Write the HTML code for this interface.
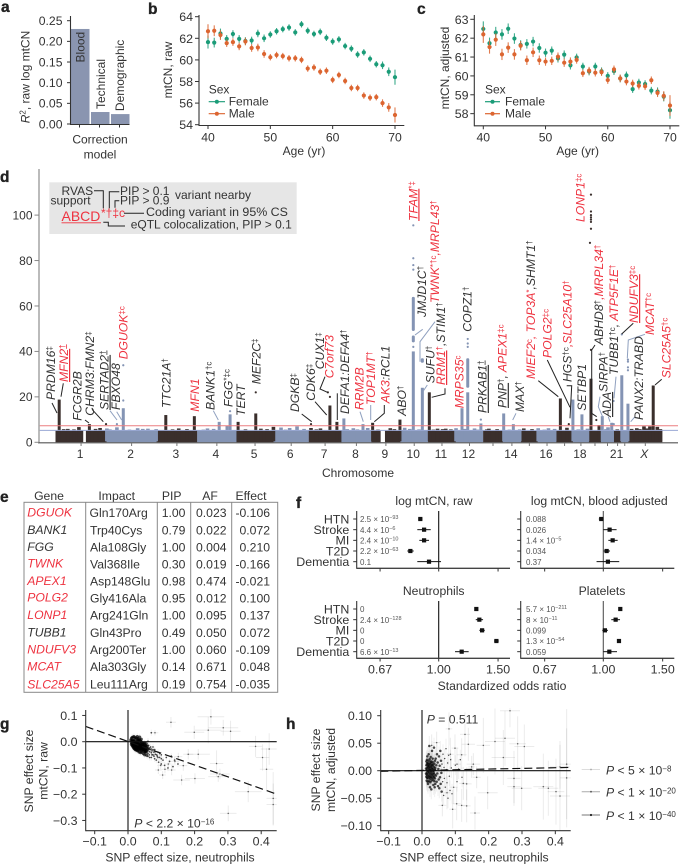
<!DOCTYPE html>
<html lang="en">
<head>
<meta charset="utf-8">
<title>mtCN figure</title>
<style>
html,body{margin:0;padding:0;background:#fff;}
svg{display:block;}
text{font-family:"Liberation Sans",sans-serif;fill:#333;font-size:12px;}
.pl{font-weight:700;font-size:15.5px;fill:#222;stroke:#222;stroke-width:.35;}
.g{font-style:italic;font-size:12.2px;fill:#333;}
.r{fill:#ee3340;}
.g tspan.r{fill:#ee3340;}
.s{font-size:8px;font-style:normal;baseline-shift:3.5px;}
.u{text-decoration:underline;}
.bl{fill:none;stroke:#222;stroke-width:1;}
.blu{fill:none;stroke:#8fa0bf;stroke-width:1;}
.tc{font-size:12.2px;}
.gene{font-style:italic;}
</style>
</head>
<body>
<svg id="fig" xmlns="http://www.w3.org/2000/svg" width="685" height="865" viewBox="0 0 685 865">
<rect x="0" y="0" width="685" height="865" fill="#fff"/>
<defs>
<clipPath id="clipG"><rect x="85.7" y="708" width="191" height="122.7"/></clipPath>
<clipPath id="clipH"><rect x="380.7" y="708" width="190" height="122.7"/></clipPath>
</defs>

<text class="pl" x="1" y="12">a</text>
<text class="pl" x="148" y="14">b</text>
<text class="pl" x="417" y="14">c</text>
<text class="pl" x="0" y="182">d</text>
<text class="pl" x="0" y="502">e</text>
<text class="pl" x="296" y="508">f</text>
<text class="pl" x="0" y="729">g</text>
<text class="pl" x="286" y="729">h</text>

<g id="panelA">
<text transform="translate(29.5,77) rotate(-90)" text-anchor="middle"><tspan font-style="italic">R</tspan><tspan style="font-size:8px;baseline-shift:4px">2</tspan>, raw log mtCN</text>
<text x="100" y="143.5" text-anchor="middle" font-size="12.5">Correction</text>
<text x="100" y="158.5" text-anchor="middle">model</text>
</g>
<g id="panelB">
<text transform="translate(172,70) rotate(-90)" text-anchor="middle">mtCN, raw</text>
<text x="304" y="155" text-anchor="middle">Age (yr)</text>
<text x="208.7" y="93.5">Sex</text>
<text x="228.7" y="105.5">Female</text>
<text x="228.7" y="117.5">Male</text>
</g>
<g id="panelC">
<text transform="translate(449,68) rotate(-90)" text-anchor="middle">mtCN, adjusted</text>
<text x="577.7" y="155" text-anchor="middle">Age  (yr)</text>
<text x="485" y="93.5">Sex</text>
<text x="505" y="105.5">Female</text>
<text x="505" y="117.5">Male</text>
</g>

<g id="panelD"></g>
<g id="panelDLabels">
<rect x="49.3" y="182.3" width="247.4" height="51.7" fill="#e6e6e6"/>
<text x="61.5" y="195">RVAS</text>
<text x="50.5" y="204.3">support</text>
<text x="61.5" y="221" font-size="14" class="r" style="font-size:14px">ABCD</text>
<line x1="61.5" y1="222.8" x2="101" y2="222.8" stroke="#ee3340" stroke-width=".9"/>
<text x="101" y="217" class="r" style="font-size:12px">*†‡c</text>
<text x="120" y="195">PIP &gt; 0.1</text>
<text x="120" y="204.3">PIP &gt; 0.9</text>
<text x="175" y="199">variant nearby</text>
<text x="146" y="216" style="font-size:12.4px">Coding variant in 95% CS</text>
<text x="130.7" y="228.3" style="font-size:12px">eQTL colocalization, PIP &gt; 0.1</text>
<polyline class="bl" points="94,190.7 103.3,190.7 103.3,208.3"/>
<polyline class="bl" points="119.3,191.7 109.3,191.7 109.3,208.3"/>
<polyline class="bl" points="119.3,200.7 115,200.7 115,207.7"/>
<polyline class="bl" points="124,213.3 144,213.3"/>
<polyline class="bl" points="103.3,222.3 108.3,222.3 108.3,226 125,226"/>

<polyline class="bl" points="52,403 57,413"/>
<polyline class="bl" points="63.3,383.3 61,396.7"/>
<polyline class="bl" points="85,420 89,423"/>
<polyline class="bl" points="92,409.3 103.3,421.7"/>
<polyline class="bl" points="301.7,414 311.7,421.7"/>
<polyline class="bl" points="315,401.7 326.7,415"/>
<polyline class="bl" points="325,376.7 320,389 328.3,392.7"/>
<polyline class="bl" points="337.3,393.3 337.3,420"/>
<polyline class="bl" points="384.3,405 384.3,413.3 374.3,421.7"/>
<polyline class="bl" points="445,388.3 445,394 431.7,397.3"/>
<polyline class="bl" points="538.3,380.7 558.3,396.7"/>
<polyline class="bl" points="547.3,360 570,407.3"/>
<polyline class="bl" points="566.7,385.7 571.7,385.7 570,418.3"/>
<polyline class="bl" points="595,345 591.7,350 591.7,413.3 596.7,416.7"/>
<polyline class="bl" points="621.7,334 633.3,323.3"/>
<polyline class="bl" points="661.7,379.3 655,385"/>
<polyline class="blu" points="110,410.7 117,420"/>
<polyline class="blu" points="116.7,411.7 121.7,420"/>
<polyline class="blu" points="213.3,410.7 218.3,420"/>
<polyline class="blu" points="360,411.7 363.3,421.7"/>
<polyline class="blu" points="370.7,405 370.7,420"/>
<polyline class="blu" points="427.3,385 423.3,391"/>
<polyline class="blu" points="415,335 422.7,329.3"/>
<polyline class="blu" points="420,361.7 420,341.7 435,321.7"/>
<polyline class="blu" points="516,413.3 512.7,420"/>
<polyline class="blu" points="600,396.7 598.3,406.7 603.3,418.3"/>
<polyline class="blu" points="608.3,416.7 610,421.7"/>
<polyline class="blu" points="616,376.7 614,398.3"/>
<polyline class="blu" points="645,334.3 628.3,340 627.3,358.3"/>
<polyline class="blu" points="635,416.7 630.7,421.7"/>

<text class="g" transform="translate(55,400) rotate(-90)">PRDM16<tspan class="s">‡</tspan></text>
<text class="g r u" transform="translate(68,382) rotate(-90)">MFN2<tspan class="s">†</tspan></text>
<text class="g" transform="translate(81.7,420.7) rotate(-90)">FCGR2B</text>
<text class="g" transform="translate(94,415.7) rotate(-90)">CHRM3:FMN2<tspan class="s">‡</tspan></text>
<text class="g u" transform="translate(108.5,410) rotate(-90)">SERTAD2<tspan class="s">†</tspan></text>
<text class="g" transform="translate(120,410) rotate(-90)">FBXO48</text>
<text class="g r" transform="translate(127.3,359.3) rotate(-90)">DGUOK<tspan class="s">‡c</tspan></text>
<text class="g" transform="translate(170.7,408) rotate(-90)">TTC21A<tspan class="s">†</tspan></text>
<text class="g r" transform="translate(199,411.7) rotate(-90)">MFN1</text>
<text class="g" transform="translate(214.3,410) rotate(-90)">BANK1<tspan class="s">†c</tspan></text>
<text class="g" transform="translate(232.3,407) rotate(-90)">FGG<tspan class="s">*‡c</tspan></text>
<text class="g" transform="translate(245,416) rotate(-90)">TERT</text>
<text class="g" transform="translate(260.7,384.3) rotate(-90)">MEF2C<tspan class="s">‡</tspan></text>
<text class="g" transform="translate(299,412) rotate(-90)">DGKB<tspan class="s">‡</tspan></text>
<text class="g" transform="translate(315,400.7) rotate(-90)">CDK6<tspan class="s">‡</tspan></text>
<text class="g" transform="translate(324,369.3) rotate(-90)">CUX1<tspan class="s">‡</tspan></text>
<text class="g r" transform="translate(333.3,378.3) rotate(-90)">C7orf73</text>
<text class="g" transform="translate(349,414) rotate(-90)">DEFA1:DEFA4<tspan class="s">†</tspan></text>
<text class="g r" transform="translate(363.3,410) rotate(-90)">RRM2B</text>
<text class="g r" transform="translate(375,405) rotate(-90)">TOP1MT<tspan class="s">†</tspan></text>
<text class="g" transform="translate(389.3,403.3) rotate(-90)"><tspan class="r">AK3</tspan>:RCL1</text>
<text class="g" transform="translate(406,415.7) rotate(-90)">ABO<tspan class="s">†</tspan></text>
<text class="g" transform="translate(426,317) rotate(-90)">JMJD1C<tspan class="s">†</tspan></text>
<text class="g" transform="translate(434.7,383.3) rotate(-90)">SUFU<tspan class="s">†</tspan></text>
<text class="g" transform="translate(445,385) rotate(-90)"><tspan class="r u">RRM1</tspan><tspan class="s r">†</tspan>,STIM1<tspan class="s">†</tspan></text>
<text class="g r" transform="translate(439,303) rotate(-90)">TWNK<tspan class="s">*†c</tspan>,MRPL43<tspan class="s">†</tspan></text>
<text class="g r" transform="translate(463.3,408.3) rotate(-90)">MRPS35<tspan class="s">c</tspan></text>
<text class="g" transform="translate(471.7,331.7) rotate(-90)">COPZ1<tspan class="s">†</tspan></text>
<text class="g u" transform="translate(486.7,413) rotate(-90)">PRKAB1<tspan class="s">†</tspan></text>
<text class="g" transform="translate(506.7,408) rotate(-90)"><tspan class="u">PNP</tspan><tspan class="s">†</tspan>, <tspan class="r">APEX1</tspan><tspan class="s r">‡c</tspan></text>
<text class="g" transform="translate(524,412) rotate(-90)">MAX<tspan class="s">†</tspan></text>
<text class="g" transform="translate(535,379) rotate(-90)"><tspan class="r">MIEF2</tspan><tspan class="s r">c</tspan><tspan class="r">, TOP3A</tspan><tspan class="s r">*</tspan>,SHMT1<tspan class="s">†</tspan></text>
<text class="g r" transform="translate(551.7,358) rotate(-90)">POLG2<tspan class="s">‡c</tspan></text>
<text class="g" transform="translate(571.7,382) rotate(-90)">HGS<tspan class="s">†c</tspan><tspan class="r">,SLC25A10</tspan><tspan class="s r">†</tspan></text>
<text class="g" transform="translate(586,410.7) rotate(-90)">SETBP1</text>
<text class="g" transform="translate(603,345) rotate(-90)">ABHD8<tspan class="s">†</tspan><tspan class="r">,MRPL34</tspan><tspan class="s r">†</tspan></text>
<text class="g" transform="translate(607.7,392) rotate(-90)">SIRPA<tspan class="s">†</tspan></text>
<text class="g u" transform="translate(611,417) rotate(-90)">ADA</text>
<text class="g" transform="translate(618,375) rotate(-90)">TUBB1<tspan class="s">†c</tspan>, <tspan class="r">ATP5F1E</tspan><tspan class="s r">†</tspan></text>
<text class="g r" transform="translate(638,323) rotate(-90)"><tspan class="u">NDUFV3</tspan><tspan class="s">‡c</tspan></text>
<text class="g" transform="translate(643,420) rotate(-90)">PANX2:TRABD</text>
<text class="g r" transform="translate(654,335) rotate(-90)">MCAT<tspan class="s">†c</tspan></text>
<text class="g r" transform="translate(670.7,378.3) rotate(-90)">SLC25A5<tspan class="s">†c</tspan></text>
<text class="g r" transform="translate(584.3,222) rotate(-90)">LONP1<tspan class="s">‡c</tspan></text>
<text class="g r" transform="translate(417.3,221) rotate(-90)"><tspan class="u">TFAM</tspan><tspan class="s">*‡</tspan></text>
<text x="358" y="477" text-anchor="middle">Chromosome</text>
</g>

<g id="panelE">
<text x="49" y="500" text-anchor="middle" class="tc">Gene</text>
<text x="116.7" y="500" text-anchor="middle" class="tc">Impact</text>
<text x="171.7" y="500" text-anchor="middle" class="tc">PIP</text>
<text x="210" y="500" text-anchor="middle" class="tc">AF</text>
<text x="251" y="500" text-anchor="middle" class="tc">Effect</text>
<rect x="24" y="502.3" width="253.7" height="190" fill="none" stroke="#888" stroke-width="1"/>
<line x1="85.7" y1="502.3" x2="85.7" y2="692.3" stroke="#888"/>
<line x1="157.3" y1="502.3" x2="157.3" y2="692.3" stroke="#888"/>
<line x1="190.7" y1="502.3" x2="190.7" y2="692.3" stroke="#888"/>
<line x1="231.7" y1="502.3" x2="231.7" y2="692.3" stroke="#888"/>
<g><text x="27.3" y="516.7" class="tc gene r">DGUOK</text><text x="89.5" y="517" class="tc">Gln170Arg</text><text x="161.7" y="517" class="tc">1.00</text><text x="196" y="517" class="tc">0.023</text><text x="270" y="517" text-anchor="end" class="tc">-0.106</text></g>
<g><text x="27.3" y="534" class="tc gene">BANK1</text><text x="90" y="534.5" class="tc">Trp40Cys</text><text x="161.7" y="534.5" class="tc">0.79</text><text x="196" y="534.5" class="tc">0.022</text><text x="270" y="534.5" text-anchor="end" class="tc">0.072</text></g>
<g><text x="27.3" y="551" class="tc gene">FGG</text><text x="90" y="551.5" class="tc">Ala108Gly</text><text x="161.7" y="551.5" class="tc">1.00</text><text x="196" y="551.5" class="tc">0.004</text><text x="270" y="551.5" text-anchor="end" class="tc">0.210</text></g>
<g><text x="27.3" y="567.7" class="tc gene r">TWNK</text><text x="90" y="568.5" class="tc">Val368Ile</text><text x="161.7" y="568.5" class="tc">0.30</text><text x="196" y="568.5" class="tc">0.019</text><text x="270" y="568.5" text-anchor="end" class="tc">-0.166</text></g>
<g><text x="27.3" y="585" class="tc gene r">APEX1</text><text x="90" y="585.5" class="tc">Asp148Glu</text><text x="161.7" y="585.5" class="tc">0.98</text><text x="196" y="585.5" class="tc">0.474</text><text x="270" y="585.5" text-anchor="end" class="tc">-0.021</text></g>
<g><text x="27.3" y="601.7" class="tc gene r">POLG2</text><text x="90" y="602.5" class="tc">Gly416Ala</text><text x="161.7" y="602.5" class="tc">0.95</text><text x="196" y="602.5" class="tc">0.012</text><text x="270" y="602.5" text-anchor="end" class="tc">0.100</text></g>
<g><text x="27.3" y="619" class="tc gene r">LONP1</text><text x="90" y="619.5" class="tc">Arg241Gln</text><text x="161.7" y="619.5" class="tc">1.00</text><text x="196" y="619.5" class="tc">0.095</text><text x="270" y="619.5" text-anchor="end" class="tc">0.137</text></g>
<g><text x="27.3" y="636.7" class="tc gene">TUBB1</text><text x="90" y="637" class="tc">Gln43Pro</text><text x="161.7" y="637" class="tc">0.49</text><text x="196" y="637" class="tc">0.050</text><text x="270" y="637" text-anchor="end" class="tc">0.072</text></g>
<g><text x="27.3" y="653.3" class="tc gene r">NDUFV3</text><text x="90" y="654" class="tc">Arg200Ter</text><text x="161.7" y="654" class="tc">1.00</text><text x="196" y="654" class="tc">0.060</text><text x="270" y="654" text-anchor="end" class="tc">-0.109</text></g>
<g><text x="27.3" y="670.3" class="tc gene r">MCAT</text><text x="90" y="671" class="tc">Ala303Gly</text><text x="161.7" y="671" class="tc">0.14</text><text x="196" y="671" class="tc">0.671</text><text x="270" y="671" text-anchor="end" class="tc">0.048</text></g>
<g><text x="27.3" y="688.3" class="tc gene r">SLC25A5</text><text x="90" y="688.3" class="tc">Leu111Arg</text><text x="161.7" y="688.3" class="tc">0.19</text><text x="196" y="688.3" class="tc">0.754</text><text x="270" y="688.3" text-anchor="end" class="tc">-0.035</text></g>
</g>

<g id="panelF">
<text x="434" y="505" text-anchor="middle" class="tc">log mtCN, raw</text>
<text x="599.3" y="505" text-anchor="middle" class="tc">log mtCN, blood adjusted</text>
<text x="433.7" y="595" text-anchor="middle" class="tc">Neutrophils</text>
<text x="602" y="595" text-anchor="middle" class="tc">Platelets</text>
<text x="502" y="690" text-anchor="middle" class="tc">Standardized odds ratio</text>
</g>

<g id="panelG">
<text transform="translate(33,771) rotate(-90)" text-anchor="middle" class="tc">SNP effect size</text>
<text transform="translate(47.7,771) rotate(-90)" text-anchor="middle" class="tc">mtCN, raw</text>
<text x="180" y="861.7" text-anchor="middle" class="tc">SNP effect size, neutrophils</text>
<text x="134.3" y="827.7" class="tc"><tspan font-style="italic">P</tspan> &lt; 2.2 × 10<tspan class="s">−16</tspan></text>
</g>
<g id="panelH">
<text transform="translate(320,770) rotate(-90)" text-anchor="middle" class="tc">SNP effect size</text>
<text transform="translate(335,770) rotate(-90)" text-anchor="middle" class="tc">mtCN, adjusted</text>
<text x="474" y="861.7" text-anchor="middle" class="tc">SNP effect size, neutrophils</text>
<text x="426.7" y="723.3" class="tc"><tspan font-style="italic">P</tspan> = 0.511</text>
<g><line x1="581.7" y1="769.5" x2="600" y2="769.5" stroke="#ddd"/><circle cx="591" cy="769.5" r=".9" fill="#aaa"/><text x="606" y="774.5" class="tc"><tspan font-style="italic">P</tspan> &lt; 5 × 10<tspan class="s">−8</tspan></text></g>
<g><line x1="581.7" y1="791.7" x2="600" y2="791.7" stroke="#aaa"/><circle cx="591" cy="791.7" r=".9" fill="#555"/><text x="606" y="796.7" class="tc"><tspan font-style="italic">P</tspan> &lt; 1 × 10<tspan class="s">−20</tspan></text></g>
<g><line x1="581.7" y1="815" x2="600" y2="815" stroke="#777"/><circle cx="591" cy="815" r="1.1" fill="#222"/><text x="606" y="820" class="tc"><tspan font-style="italic">P</tspan> &lt; 1 × 10<tspan class="s">−40</tspan></text></g>
</g>
</svg>

<script>
// ---- panel a data
const barCategories=['Blood','Technical','Demographic'];
const barValues=[0.23,0.029,0.024];
const barTicks=[0,0.05,0.10,0.15,0.20,0.25];
// ---- panels b, c data
const ages=[40,41,42,43,44,45,46,47,48,49,50,51,52,53,54,55,56,57,58,59,60,61,62,63,64,65,66,67,68,69,70];
const femaleRaw=[61.65,61.6,62.45,61.95,62.4,61.95,61.75,61.8,62.45,62.0,62.35,62.65,62.85,63.0,62.55,63.3,62.7,62.4,62.6,62.05,61.7,61.9,61.28,61.04,60.5,60.7,60.1,59.6,59.5,58.9,58.4];
const maleRaw=[62.65,62.7,62.3,61.55,61.65,61.25,61.7,61.1,61.15,60.55,60.25,60.45,60.35,60.15,60.15,60.0,59.2,59.3,58.9,59.0,58.15,58.6,58.05,57.4,57.4,56.7,56.5,56.55,56.0,55.6,54.9];
const femaleRawErr=[.6,.45,.45,.35,.35,.35,.35,.35,.35,.35,.3,.3,.3,.3,.3,.3,.3,.3,.3,.3,.3,.3,.3,.3,.3,.3,.3,.3,.35,.4,.7];
const maleRawErr=[.65,.5,.45,.35,.35,.35,.35,.35,.35,.35,.3,.3,.3,.3,.3,.3,.3,.3,.3,.3,.3,.3,.3,.3,.3,.3,.3,.3,.35,.4,.7];
const femaleAdj=[62.49,61.73,62.3,62.2,62.5,61.98,61.64,61.7,61.82,61.48,61.23,61.34,60.93,61.13,60.56,60.98,60.5,60.23,60.5,60.25,60.0,60.25,59.86,60.03,59.3,59.65,59.57,59.22,59.17,58.9,58.18];
const maleAdj=[62.2,61.53,61.92,61.14,61.5,61.14,61.6,60.83,61.25,60.83,60.76,60.8,61.02,60.7,60.76,60.85,60.14,60.28,60.17,60.2,59.78,60.35,59.87,59.7,59.6,59.48,59.45,59.77,59.1,58.94,58.43];
const femaleAdjErr=[.4,.3,.3,.28,.28,.28,.25,.25,.25,.25,.22,.22,.22,.22,.22,.2,.2,.2,.2,.2,.2,.2,.2,.2,.2,.2,.2,.2,.22,.25,.45];
const maleAdjErr=[.45,.35,.33,.3,.28,.28,.25,.25,.25,.25,.22,.22,.22,.22,.22,.2,.2,.2,.2,.2,.2,.2,.2,.2,.2,.2,.2,.2,.22,.25,.55];
const rawTicks=[54,56,58,60,62,64];
const adjTicks=[58,59,60,61,62,63];
const ageTicks=[40,50,60,70];
// ---- panel d data
const chromosomeSizes=[249,243,198,191,181,171,159,146,141,135,135,133,96,88,82,90,81,78,59,63,35,35,165];
const chromosomeLabels=['1','2','3','4','5','6','7','8','9','10','11','12','','14','','16','','18','','','21','','X'];
const manhattanTicks=[0,20,40,60,80,100];
const baselineHeights=[5.1,5.2,5.2,5.3,5.1,5.2,5.3,5.2,5.1,5.2,5.1,5.2,5.1,5.2,5.0,5.2,5.1,5.2,5.1,5.2,5.0,5.2,5.2];
const gapStart=[135,1583];
const gapEnd=[148,1604];
const peakPos=[18,114,165,217,330,299,537,676,797,850,835,889,975,1061,1098,1176,1244,1336,1370,1404,1497,1544,1677,1742,1786,1820,1979,2007,2071,2182,2229,2458,2519,2563,2607,2646,2662,2708,2757,2787,2910,2865,2894,60,250,400,450,600,740,1000,1140,1290,1450,1520,1630,1700,1860,1900,1950,2040,2110,2280,2350,2400,2490,2690,2830,2930,40,90,195,265,360,425,490,570,640,720,770,925,1030,1120,1210,1270,1420,1470,1570,1650,1725,1770,1840,1885,1925,1995,2055,2100,2150,2210,2260,2320,2380,2430,2545,2590,2680,2735,2805,2845,2880,2945];
const peakTop=[18.8,6.7,8,6.3,15,6.6,12,11.5,9,12.3,7.3,9,12.7,6.8,6.5,7,6.3,16.2,9,10.5,8,8.6,10,40,24,22,15,22,8.3,12.7,8,19.3,18.8,12.3,28,7.6,11.5,8.6,29.5,17,25,7,7,5.9,6.1,6.2,6,6.1,6.1,6,6.3,6.1,6.2,6.3,6.2,6.4,6,6,6.2,6.1,6,6.1,6.2,6.2,6.4,6.6,6.2,6.8,5.8,5.7,5.9,5.7,5.6,5.9,5.8,5.7,5.8,5.6,5.9,5.7,5.8,5.6,5.9,5.7,5.8,5.7,5.6,5.8,5.9,5.7,5.6,5.8,5.7,5.9,5.6,5.7,5.8,5.6,5.7,5.8,5.6,5.9,5.7,6,5.8,5.7,5.9,5.8,6.1,5.8];
const segmentPos=[1742,1742,1786,2007];
const segmentLow=[49,44,35,24];
const segmentHigh=[64,47,37,37];
const dotPos=[330,330,299,850,975,246,1244,1326,1336,1742,1742,1742,1742,1742,2007,2007,2007,2071,2499,2607,2607,2607,2607,2607,2607,2607,2602,2607,2633,2757,2787,2787,2787,2787,2717,2718];
const dotVal=[18.4,33.9,8,13.7,22,8,8,22,20,95.5,81,78,76,42,42,43.5,45.5,10,8,109,101.6,100,99,98,97,94,87.8,40.7,9.8,47.5,31.7,33,36.4,35.5,18.2,8];
// ---- panel f data
const forestOutcomes=['HTN','Stroke','MI','T2D','Dementia'];
const forestTicks=[0.67,1.00,1.50];
const rawOR=[.882,.905,.905,.824,.936];
const rawLow=[.87,.864,.876,.807,.864];
const rawHigh=[.895,.947,.936,.843,1.016];
const rawP=['2.5 × 10','4.4 × 10','2.4 × 10','2.2 × 10','0.1'];
const rawPExp=['−93','−6','−10','−63',''];
const adjOR=[.986,1.044,1.066,1.023,1.032];
const adjLow=[.97,1.0,1.035,1.002,.955];
const adjHigh=[1.0,1.095,1.103,1.047,1.115];
const adjP=['0.088','0.026','1.4 × 10','0.034','0.37'];
const adjPExp=['','','−5','',''];
const neuOR=[1.293,1.32,1.345,1.483,1.17];
const neuLow=[1.28,1.288,1.32,1.46,1.118];
const neuHigh=[1.306,1.354,1.37,1.507,1.227];
const neuP=['0','2.4 × 10','0','0','6.6 × 10'];
const neuPExp=['','−128','','','−13'];
const pltOR=[1.123,1.088,1.011,1.113,1.042];
const pltLow=[1.11,1.056,.993,1.1,1.0];
const pltHigh=[1.136,1.121,1.032,1.127,1.098];
const pltP=['5.7 × 10','8 × 10','0.099','1.3 × 10','0.059'];
const pltPExp=['−211','−11','','−54',''];
// ---- panel g, h data
const gXTicks=[-0.1,0,0.1,0.2,0.3,0.4];
const gYTicks=[0.1,0,-0.1,-0.2,-0.3];
const hYTicks=[0.10,0.05,0,-0.05,-0.10];
const gSlopeLine=[[-0.127,0.058],[0.447,-0.2]];
const hSlopeLine=[[-0.125,-0.001],[0.447,0.006]];
const gOutliers=[[.249,.095,.04,.03],[.286,.053,.045,.03],[.241,.044,.04,.05],[.308,.04,.03,.04],[.199,.036,.03,.025],[.129,.074,.015,.02],[.081,.034,.01,.01],[.383,-.018,.02,.04],[.424,-.028,.025,.06],[.404,-.06,.02,.05],[.416,-.105,.02,.08],[.436,-.216,.02,.1],[.436,-.239,.02,.08],[.361,-.19,.04,.04],[.301,-.273,.025,.03],[.161,-.146,.025,.02],[.201,-.14,.03,.02],[.271,-.133,.03,.02],[.276,-.123,.03,.02],[.266,-.083,.02,.05],[.211,-.048,.035,.02],[.181,-.048,.015,.02],[.166,-.091,.012,.02],[.151,-.057,.012,.015],[.111,-.105,.01,.015],[.131,-.108,.012,.02],[.104,-.127,.01,.015],[.091,-.108,.01,.015],[.121,-.085,.01,.015],[.141,-.075,.012,.015],[.098,-.09,.01,.015]];
const gCluster=[[.012,.004],[.013,-.004],[.014,.002],[.014,-.012],[.015,-.006],[.016,.005],[.016,-.01],[.017,-.002],[.018,-.016],[.018,.003],[.019,-.008],[.02,-.001],[.02,-.014],[.021,-.02],[.022,-.005],[.022,-.011],[.023,.002],[.024,-.017],[.024,-.008],[.025,-.013],[.026,-.003],[.026,-.022],[.027,-.01],[.028,-.006],[.028,-.018],[.029,-.013],[.03,-.002],[.03,-.024],[.031,-.009],[.032,-.016],[.032,-.028],[.033,-.006],[.034,-.02],[.035,-.012],[.035,-.026],[.036,-.017],[.037,-.008],[.038,-.023],[.038,-.03],[.039,-.014],[.04,-.02],[.04,-.034],[.041,-.011],[.042,-.027],[.043,-.017],[.044,-.031],[.045,-.023],[.046,-.015],[.047,-.036],[.048,-.028],[.05,-.02],[.051,-.038],[.052,-.03],[.054,-.024],[.055,-.04],[.056,-.033],[.058,-.027],[.06,-.045],[.06,-.035],[.062,-.03],[.064,-.05],[.065,-.038],[.067,-.03],[.07,-.042],[.07,-.06],[.072,-.035],[.075,-.05],[.078,-.04],[.08,-.065],[.082,-.048],[.085,-.07],[.088,-.055],[.09,-.04],[.092,-.078],[.095,-.06],[.1,-.05],[.1,-.085],[.105,-.07],[.11,-.09],[.115,-.06],[.12,-.1],[.125,-.075],[.13,-.055],[.135,-.095],[.14,-.07],[.15,-.085],[.03,.012],[.035,.018],[.04,.01],[.05,-.005],[.06,.002],[.07,.034],[.033,.006],[.028,.008],[.045,-.008],[.055,-.015],[.075,-.02],[.018,-.02],[.022,-.024],[.016,-.016],[.014,-.006],[.02,-.006],[.024,-.002],[.026,-.012],[.028,-.026],[.03,-.014],[.032,-.01],[.034,-.03],[.036,-.024],[.038,-.012],[.04,-.026],[.044,-.02],[.048,-.018],[.052,-.04],[.015,.001],[.017,-.012],[.019,-.015],[.021,-.009],[.023,-.015],[.025,-.02],[.027,-.016],[.029,-.022],[.031,-.018],[.033,-.024],[.035,-.02],[.037,-.028],[.042,-.022],[.046,-.03],[.05,-.032],[.054,-.034],[.008,.006],[.01,.012],[.012,.016],[.015,.018],[.018,.02],[.02,.012],[.022,.016],[.025,.014],[.028,.02],[.03,.008],[.032,.004],[.035,.008],[.038,.002],[.04,0],[.042,-.004],[.045,-.01],[.048,-.006],[.05,-.012],[.052,-.016],[.055,-.008],[.058,-.018],[.06,-.022],[.062,-.014],[.065,-.024],[.068,-.02],[.07,-.028],[.072,-.05],[.075,-.03],[.078,-.055],[.08,-.03],[.083,-.038],[.086,-.05],[.09,-.06],[.095,-.045],[.1,-.065],[.01,-.004],[.011,.002],[.01,-.01],[.012,-.014],[.014,-.018],[.016,-.022],[.018,-.026],[.02,-.028],[.022,-.03],[.024,-.032],[.026,-.03],[.028,-.034],[.03,-.036],[.034,-.04],[.038,-.042],[.042,-.04],[.046,-.046],[.05,-.05],[.056,-.052],[.06,-.056],[.065,-.06]];
const hOutliers=[[.249,.059,.03,.05],[.219,.053,.03,.06],[.184,.046,.02,.05],[.287,.049,.025,.05],[.307,.044,.03,.04],[.264,.109,.03,.03],[.129,.066,.015,.04],[.081,.076,.01,.03],[.139,.048,.02,.03],[.244,.024,.035,.05],[.149,.007,.01,.02],[.164,-.012,.012,.02],[.276,-.014,.02,.05],[.276,-.029,.02,.03],[.197,-.04,.03,.03],[.159,-.077,.015,.03],[.364,-.029,.03,.06],[.379,-.032,.03,.05],[.402,-.038,.025,.06],[.414,-.046,.03,.1],[.434,-.013,.02,.09],[.414,.007,.03,.04],[.434,.012,.02,.1],[.299,-.032,.03,.04],[.134,-.024,.015,.03],[.124,-.023,.012,.03],[.104,-.06,.012,.03],[.092,-.07,.01,.035],[.061,-.063,.012,.02],[.119,-.063,.012,.03],[.134,-.064,.012,.03],[.044,.051,.01,.02],[.029,.046,.008,.02],[.099,.041,.01,.025],[.119,.029,.015,.03],[.154,.012,.02,.02],[.105,.012,.012,.03],[.085,.03,.01,.03],[.075,-.04,.01,.03],[.095,-.03,.012,.03]];
const hCluster=[[.012,.004],[.012,-.005],[.013,.01],[.013,-.011],[.014,.001],[.014,-.007],[.015,.013],[.015,-.013],[.016,.005],[.016,-.003],[.017,.009],[.017,-.009],[.018,0],[.018,.014],[.019,-.014],[.019,.006],[.02,-.005],[.02,.011],[.021,-.01],[.021,.002],[.022,.008],[.022,-.002],[.023,-.012],[.023,.012],[.024,.004],[.024,-.007],[.025,.015],[.025,-.015],[.026,0],[.026,.007],[.027,-.004],[.027,-.011],[.028,.01],[.028,.002],[.029,-.008],[.029,.013],[.03,-.013],[.03,.005],[.031,-.001],[.031,.009],[.032,-.006],[.032,.016],[.033,-.016],[.033,.003],[.034,-.01],[.034,.011],[.035,0],[.035,-.004],[.036,.007],[.036,-.012],[.037,.013],[.037,-.019],[.038,.002],[.038,-.007],[.039,.018],[.039,-.014],[.04,.005],[.04,-.024],[.041,.022],[.042,-.009],[.043,.01],[.044,-.02],[.045,.03],[.046,-.005],[.047,.015],[.048,-.028],[.049,.003],[.05,-.016],[.051,.026],[.052,-.032],[.053,.009],[.054,-.012],[.055,.036],[.056,-.024],[.057,.018],[.058,-.004],[.059,-.038],[.06,.012],[.062,-.02],[.063,.03],[.065,-.045],[.066,.006],[.067,-.014],[.068,.022],[.07,-.03],[.072,.04],[.073,.002],[.075,-.022],[.077,.014],[.078,-.05],[.08,.028],[.082,-.01],[.084,-.036],[.086,.02],[.088,.005],[.09,-.042],[.02,.03],[.022,.045],[.024,-.03],[.026,.025],[.028,-.034],[.03,.036],[.032,.022],[.034,-.026],[.036,.042],[.038,-.03],[.015,.02],[.018,-.024],[.016,.026],[.017,-.02],[.014,-.018],[.013,.017],[.02,.018],[.021,-.019],[.023,.021],[.025,-.021],[.027,.017],[.029,-.018],[.1,.01],[.11,.003],[.105,-.02],[.115,.02],[.12,-.012]];

const NS='http://www.w3.org/2000/svg';
function mk(tag,attrs,parent){
  const el=document.createElementNS(NS,tag);
  for(const k in attrs){el.setAttribute(k,attrs[k]);}
  parent.appendChild(el);
  return el;
}
function fmt(v,d){return v.toFixed(d).replace('-','−');}
function axisLine(parent,x1,y1,x2,y2,color,w){
  const el=mk('line',{x1:x1,y1:y1,x2:x2,y2:y2,stroke:color||'#333','stroke-width':w||1.1},parent);
  
  
  return el;
}
function tickMark(parent,x1,y1,x2,y2,color){
  const el=mk('line',{x1:x1,y1:y1,x2:x2,y2:y2,stroke:color||'#333','stroke-width':1},parent);
  
  
  return el;
}
function tickLabel(parent,x,y,str,anchor,size){
  const el=mk('text',{x:x,y:y,'text-anchor':anchor},parent);
  el.style.fontSize=(size||12.2)+'px';
  el.textContent=str;
  
  
  return el;
}

// ---- panel a
(function(){
  const g=document.getElementById('panelA');
  const yA=v=>124-v*413.2;
  const xA=i=>71+i*20;
  const barW=18.5;
  barValues.forEach((v,i)=>{
    const r=mk('rect',{x:xA(i),y:yA(v),width:barW,height:yA(0)-yA(v),fill:'#8a95b0'},g);
    
    
    const inside=i===0;
    const lx=[84.3,105,124][i];
    const ly=inside?yA(v)+33.5:yA(v)-3;
    const t=mk('text',{transform:'translate('+lx+','+ly+') rotate(-90)'},g);
    t.textContent=barCategories[i];
    
    
    tickMark(g,xA(i)+8.5,124,xA(i)+8.5,127.5);
  });
  axisLine(g,70.5,16,70.5,124.5);
  axisLine(g,70,124.5,129.5,124.5);
  barTicks.forEach(v=>{
    tickMark(g,67,yA(v),70.5,yA(v));
    tickLabel(g,62.5,yA(v)+4.3,v.toFixed(2),'end');
  });
})();

// ---- panels b and c
function ageChart(id,xF,yF,left,right,bottom,top,yTicks,labelX,tickX,fem,femE,mal,malE,legX1,legX2){
  const g=document.getElementById(id);
  const FEM='#1b9c78',MAL='#dc6530';
  [[fem,femE,FEM,'female'],[mal,malE,MAL,'male']].forEach(s=>{
    ages.forEach((a,i)=>{
      const e=mk('line',{x1:xF(a),x2:xF(a),y1:yF(s[0][i]-s[1][i]),y2:yF(s[0][i]+s[1][i]),stroke:s[2],'stroke-width':1.1,'stroke-opacity':.85},g);
      
      
      const p=mk('circle',{cx:xF(a),cy:yF(s[0][i]),r:2.1,fill:s[2]},g);
      
      
    });
  });
  axisLine(g,left,top,left,bottom+.5);
  axisLine(g,left,bottom,right,bottom);
  yTicks.forEach(v=>{
    tickMark(g,left-4,yF(v),left,yF(v));
    tickLabel(g,tickX,yF(v)+4.5,String(v),'end',12.4);
  });
  ageTicks.forEach(a=>{
    tickMark(g,xF(a),bottom,xF(a),bottom+3.5);
    tickLabel(g,xF(a),141.5,String(a),'middle',12.2);
  });
  [[101.7,FEM,'legend-line-female'],[113.7,MAL,'legend-line-male']].forEach(l=>{
    const ln=mk('line',{x1:legX1,x2:legX2,y1:l[0],y2:l[0],stroke:l[1],'stroke-width':1.2},g);
    
    
    const c=mk('circle',{cx:(legX1+legX2)/2,cy:l[0],r:2,fill:l[1]},g);
    
    
  });
}
ageChart('panelB',a=>208+(a-40)*6.233,v=>16.7+(64-v)*10.8,199,404.3,125.5,15,rawTicks,0,193,femaleRaw,femaleRawErr,maleRaw,maleRawErr,208.7,225);
ageChart('panelC',a=>483.3+(a-40)*6.223,v=>19.3+(63-v)*18.87,474.3,679.3,125.8,15,adjTicks,0,468.5,femaleAdj,femaleAdjErr,maleAdj,maleAdjErr,485,500);

// ---- panel d
(function(){
  const g=document.getElementById('panelD');
  const X0=55.5,S=0.2054;
  const xG=p=>X0+p*S;
  const yM=v=>442.3-2.272*v;
  const BLACK='#3a2f2c',BLUE='#8494b4';
  let cum=[0];
  chromosomeSizes.forEach(s=>cum.push(cum[cum.length-1]+s));
  const colorAt=p=>{
    for(let i=0;i<chromosomeSizes.length;i++){ if(p<cum[i+1]) return i%2===0?BLACK:BLUE; }
    return BLACK;
  };
  chromosomeSizes.forEach((s,i)=>{
    const r=mk('rect',{x:xG(cum[i]),y:yM(baselineHeights[i]),width:s*S+.1,height:yM(0)-yM(baselineHeights[i]),fill:i%2===0?BLACK:BLUE},g);
    
    
  });
  peakPos.forEach((p,i)=>{
    const thick=peakTop[i]>7?3:3.6;
    const r=mk('rect',{x:xG(p)-thick/2,y:yM(peakTop[i]),width:thick,height:yM(0)-yM(peakTop[i])-1,fill:colorAt(p)},g);
    
    
  });
  gapStart.forEach((st,i)=>{
    const r=mk('rect',{x:xG(st),y:yM(6.5),width:(gapEnd[i]-st)*S,height:yM(0)-yM(6.5),fill:'#fff'},g);
    
    
  });
  segmentPos.forEach((p,i)=>{
    const r=mk('rect',{x:xG(p)-1.5,y:yM(segmentHigh[i]),width:3,height:yM(segmentLow[i])-yM(segmentHigh[i]),fill:colorAt(p),rx:1.2},g);
    
    
  });
  dotPos.forEach((p,i)=>{
    const r=mk('circle',{cx:xG(p),cy:yM(dotVal[i]),r:1.1,fill:colorAt(p)},g);
    
    
  });
  const l1=mk('line',{x1:39,x2:678,y1:yM(7.3),y2:yM(7.3),stroke:'#ec7f80','stroke-width':1},g);
  
  
  const l2=mk('line',{x1:39,x2:678,y1:yM(5.25),y2:yM(5.25),stroke:'#9aa8d4','stroke-width':1},g);
  
  
  axisLine(g,39,169,39,443,'#aaa',1.6);
  axisLine(g,38,442.8,678,442.8,'#555',1.2);
  manhattanTicks.forEach(v=>{
    tickMark(g,34.5,yM(v),39,yM(v),'#888');
    tickLabel(g,32.5,yM(v)+4.3,String(v),'end',12);
  });
  chromosomeLabels.forEach((lab,i)=>{
    const c=xG(cum[i]+chromosomeSizes[i]/2);
    tickMark(g,c,443,c,446,'#777');
    if(lab){
      const t=tickLabel(g,c-1,458,lab,'middle',12);
      if(lab==='X'){t.style.fontStyle='italic';}
    }
  });
})();

// ---- panel f
function forest(left,right,oneX,rowY0,axisY,or,low,high,ps,pe,pX,vColor,labels,dark){
  const g=document.getElementById('panelF');
  const xF=v=>oneX+146.4*Math.log(v);
  const yF=i=>rowY0+i*10.67;
  const v=mk('line',{x1:xF(1),x2:xF(1),y1:rowY0-8,y2:axisY,stroke:vColor,'stroke-width':1.1},g);
  
  
  forestOutcomes.forEach((name,i)=>{
    tickMark(g,left-3.5,yF(i),left,yF(i));
    if(labels){ tickLabel(g,349.3,yF(i)+4.3,name,'end',12.4); }
    const ci=mk('line',{x1:xF(low[i]),x2:xF(high[i]),y1:yF(i),y2:yF(i),stroke:'#111','stroke-width':1},g);
    
    
    const s=mk('rect',{x:xF(or[i])-2.1,y:yF(i)-2.1,width:4.2,height:4.2,fill:'#111'},g);
    
    
    const t=mk('text',{x:pX,y:yF(i)+3.2},g);
    t.style.fontSize='8px';
    t.style.fill='#555';
    t.textContent=ps[i];
    if(pe[i]){
      const sp=mk('tspan',{},t);
      sp.style.fontSize='5.5px';
      sp.style.baselineShift='3px';
      sp.textContent=pe[i];
    }
    
    
  });
  axisLine(g,left,rowY0-8,left,axisY+.5,'#333',1.1);
  axisLine(g,left,axisY,right,axisY,'#444',1.3);
  forestTicks.forEach(k=>{
    tickMark(g,xF(k),axisY,xF(k),axisY+3.2);
    if(labels!==null && dark){ tickLabel(g,xF(k),673.7,k.toFixed(2),'middle',12.4); }
  });
}
forest(356.7,510,438.7,519,568.3,rawOR,rawLow,rawHigh,rawP,rawPExp,360,'#111',true,false);
forest(520.7,674.3,603.3,519,568.3,adjOR,adjLow,adjHigh,adjP,adjPExp,526,'#555',false,false);
forest(356.7,510,438.7,609,658.3,neuOR,neuLow,neuHigh,neuP,neuPExp,360,'#111',true,true);
forest(520.7,674.3,603.3,609,658.3,pltOR,pltLow,pltHigh,pltP,pltPExp,526,'#555',false,true);

// ---- panels g, h
function scatter(id,clip,xF,yF,left,right,bottom,top,yTicks,yDec,tickX,outliers,cluster,slope,clusterErr,bigR,smallR){
  const g=document.getElementById(id);
  const plot=mk('g',{'clip-path':'url(#'+clip+')'},g);
  
  
  outliers.forEach(o=>{
    const h=mk('line',{x1:xF(o[0]-o[2]),x2:xF(o[0]+o[2]),y1:yF(o[1]),y2:yF(o[1]),stroke:'#000','stroke-opacity':.08,'stroke-width':1},plot);
    
    
    const v=mk('line',{x1:xF(o[0]),x2:xF(o[0]),y1:yF(o[1]-o[3]),y2:yF(o[1]+o[3]),stroke:'#000','stroke-opacity':.08,'stroke-width':1},plot);
    
    
    const c=mk('circle',{cx:xF(o[0]),cy:yF(o[1]),r:.75,fill:'#000','fill-opacity':.55},plot);
    
    
  });
  cluster.forEach(o=>{
    const v=mk('line',{x1:xF(o[0]),x2:xF(o[0]),y1:yF(o[1]-clusterErr),y2:yF(o[1]+clusterErr),stroke:'#000','stroke-opacity':.06,'stroke-width':1},plot);
    
    
  });
  cluster.forEach(o=>{
    const c=mk('circle',{cx:xF(o[0]),cy:yF(o[1]),r:o[0]<.06?bigR:smallR,fill:'#000','fill-opacity':.7},plot);
    
    
  });
  const h0=mk('line',{x1:left,x2:right,y1:yF(0),y2:yF(0),stroke:'#111','stroke-width':1.1},g);
  
  
  const v0=mk('line',{x1:xF(0),x2:xF(0),y1:top,y2:bottom,stroke:'#111','stroke-width':1.1},g);
  
  
  const d=mk('line',{x1:xF(slope[0][0]),y1:yF(slope[0][1]),x2:xF(slope[1][0]),y2:yF(slope[1][1]),stroke:'#111','stroke-width':1.2,'stroke-dasharray':'8 4'},g);
  
  
  axisLine(g,left,top,left,bottom+.5);
  axisLine(g,left,bottom,right,bottom,'#333',1.2);
  yTicks.forEach(v=>{
    tickMark(g,left-3.5,yF(v),left,yF(v));
    tickLabel(g,tickX,yF(v)+4.3,fmt(v,yDec),'end',12.4);
  });
  gXTicks.forEach(v=>{
    tickMark(g,xF(v),bottom,xF(v),bottom+3.5);
    tickLabel(g,xF(v),845.7,fmt(v,1),'middle',12.4);
  });
}
scatter('panelG','clipG',v=>128+v*333,v=>741.7-v*262.5,85.7,276.7,830.7,710,gYTicks,1,77.5,gOutliers,gCluster,gSlopeLine,.012,1.5,.85);
scatter('panelH','clipH',v=>422+v*333.3,v=>770.7-v*550,380.7,570.7,830.7,710,hYTicks,2,372,hOutliers,hCluster,hSlopeLine,.018,1.25,.7);
</script>
</body>
</html>
